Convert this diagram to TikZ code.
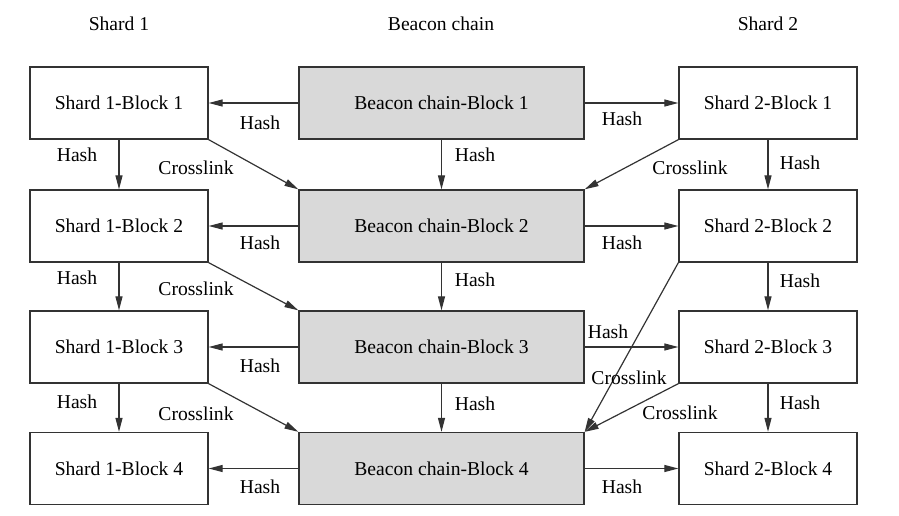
\documentclass[tikz,border=0pt]{standalone}
\usepackage{fontspec}
\setmainfont{Liberation Serif}
\usetikzlibrary{arrows.meta}
\definecolor{linec}{HTML}{333333}
\definecolor{beaconfill}{HTML}{D9D9D9}
\begin{document}
\begin{tikzpicture}[x=1pt,y=-1pt,
  txt/.style={font=\fontsize{19.6}{23}\selectfont},
  box/.style={txt, draw=linec, line width=1.3pt, minimum width=178pt, minimum height=72pt, inner sep=0pt},
  bbox/.style={box, fill=beaconfill, minimum width=285pt},
  lbl/.style={txt, inner sep=0pt},
  arr/.style={draw=linec, line width=1.2pt, -{Triangle[length=14pt,width=7pt]}}]
\useasboundingbox (0,0) rectangle (899,516);
% headers
\node[lbl] (h1) at (119,24) {Shard 1};
\node[lbl] (h2) at (441,24) {Beacon chain};
\node[lbl] (h3) at (768,24) {Shard 2};
% boxes
\node[box]  (s1a) at (119,103) {Shard 1-Block 1};
\node[box]  (s1b) at (119,226) {Shard 1-Block 2};
\node[box]  (s1c) at (119,347) {Shard 1-Block 3};
\node[box]  (s1d) at (119,468.5) {Shard 1-Block 4};
\node[bbox] (b1) at (441.5,103) {Beacon chain-Block 1};
\node[bbox] (b2) at (441.5,226) {Beacon chain-Block 2};
\node[bbox] (b3) at (441.5,347) {Beacon chain-Block 3};
\node[bbox] (b4) at (441.5,468.5) {Beacon chain-Block 4};
\node[box]  (s2a) at (768,103) {Shard 2-Block 1};
\node[box]  (s2b) at (768,226) {Shard 2-Block 2};
\node[box]  (s2c) at (768,347) {Shard 2-Block 3};
\node[box]  (s2d) at (768,468.5) {Shard 2-Block 4};
% horizontal hash links
\draw[arr] (b1.west) -- (s1a.east);
\draw[arr] (b2.west) -- (s1b.east);
\draw[arr] (b3.west) -- (s1c.east);
\draw[arr] (b4.west) -- (s1d.east);
\draw[arr] (b1.east) -- (s2a.west);
\draw[arr] (b2.east) -- (s2b.west);
\draw[arr] (b3.east) -- (s2c.west);
\draw[arr] (b4.east) -- (s2d.west);
% vertical hash links
\draw[arr] (s1a.south) -- (s1b.north);
\draw[arr] (s1b.south) -- (s1c.north);
\draw[arr] (s1c.south) -- (s1d.north);
\draw[arr] (b1.south) -- (b2.north);
\draw[arr] (b2.south) -- (b3.north);
\draw[arr] (b3.south) -- (b4.north);
\draw[arr] (s2a.south) -- (s2b.north);
\draw[arr] (s2b.south) -- (s2c.north);
\draw[arr] (s2c.south) -- (s2d.north);
% crosslinks
\draw[arr] (s1a.south east) -- (b2.north west);
\draw[arr] (s1b.south east) -- (b3.north west);
\draw[arr] (s1c.south east) -- (b4.north west);
\draw[arr] (s2a.south west) -- (b2.north east);
\draw[arr] (s2b.south west) -- (b4.north east);
\draw[arr] (s2c.south west) -- (b4.north east);
% labels
\node[lbl] (lh1) at (260,123) {Hash};
\node[lbl] (lh2) at (260,243) {Hash};
\node[lbl] (lh3) at (260,366) {Hash};
\node[lbl] (lh4) at (260,487) {Hash};
\node[lbl] (rh1) at (622,119) {Hash};
\node[lbl] (rh2) at (622,243) {Hash};
\node[lbl] (rh3) at (608,332) {Hash};
\node[lbl] (rh4) at (622,487) {Hash};
\node[lbl] (vl1) at (77,155) {Hash};
\node[lbl] (vl2) at (77,278) {Hash};
\node[lbl] (vl3) at (77,402) {Hash};
\node[lbl] (vb1) at (475,155) {Hash};
\node[lbl] (vb2) at (475,280) {Hash};
\node[lbl] (vb3) at (475,404) {Hash};
\node[lbl] (vr1) at (800,163) {Hash};
\node[lbl] (vr2) at (800,281) {Hash};
\node[lbl] (vr3) at (800,403) {Hash};
\node[lbl] (cl1) at (196,168) {Crosslink};
\node[lbl] (cl2) at (196,289) {Crosslink};
\node[lbl] (cl3) at (196,414) {Crosslink};
\node[lbl] (cr1) at (690,168) {Crosslink};
\node[lbl] (cr2) at (629,378) {Crosslink};
\node[lbl] (cr3) at (680,413) {Crosslink};
\end{tikzpicture}
\end{document}
